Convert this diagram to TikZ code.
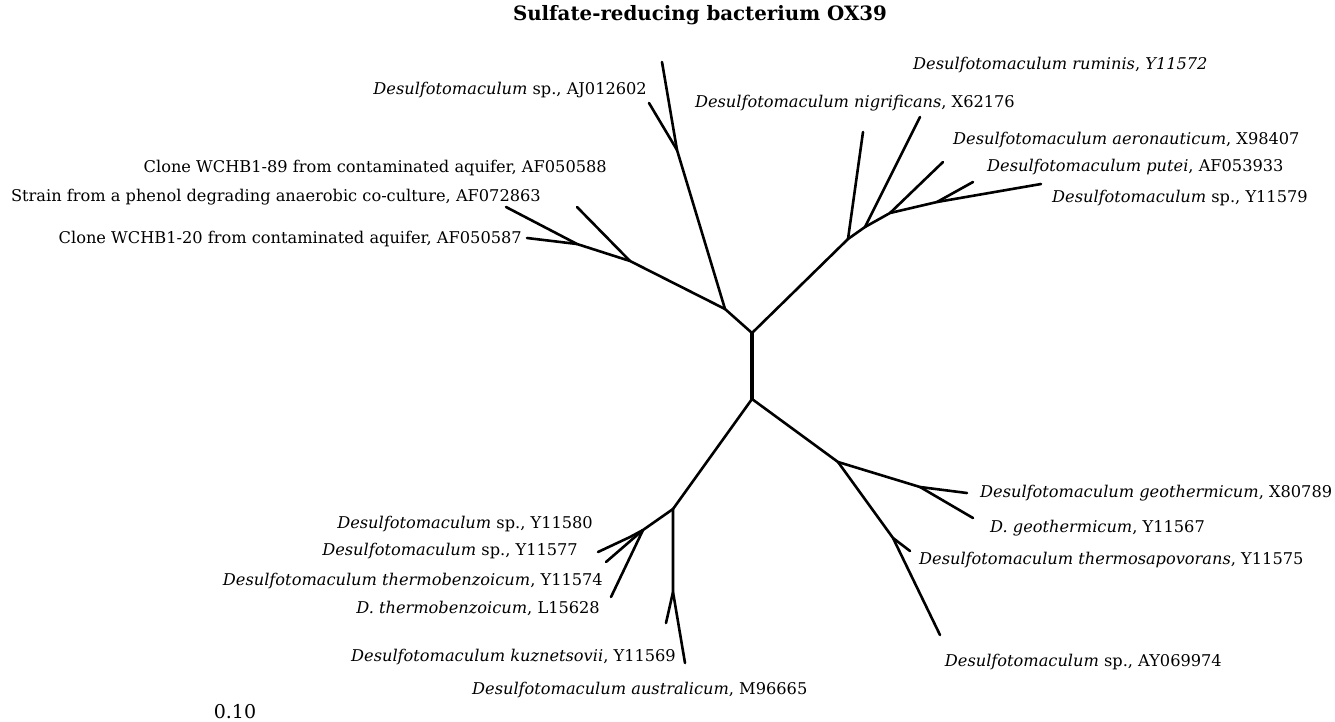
\documentclass[tikz,border=0pt]{standalone}
\usepackage{fontspec}
\setmainfont{DejaVu Serif}
\usepackage{tikz}
\usetikzlibrary{positioning, calc}

\definecolor{inkBlack}{HTML}{000000}

\tikzset{
    branch/.style={draw=inkBlack, line width=2.6pt, line cap=round, line join=round},
    taxon/.style={font=\fontsize{16.2}{18}\selectfont, text=inkBlack, inner sep=0pt},
}
\newcommand{\Dsulf}{\textit{Desulfotomaculum}}

\begin{document}
\begin{tikzpicture}[x=1pt, y=-1pt]
    \useasboundingbox (0,0) rectangle (1335,721);

    % Title
    \node[font=\bfseries\fontsize{19.8}{22}\selectfont] (title) at (700,15) {Sulfate-reducing bacterium OX39};

    % Backbone
    \coordinate (top) at (752,333);
    \coordinate (bot) at (752,399);
    \coordinate (ul) at (725,309);
    \coordinate (ur) at (848,239);
    \coordinate (ll) at (673,509);
    \coordinate (lr) at (838,462);
    \draw[branch, line width=3.6pt] (top) -- (bot);
    \draw[branch] (ul) -- (top) -- (ur);
    \draw[branch] (ll) -- (bot) -- (lr);

    % Upper-left clade
    \coordinate (ajn) at (677,150);
    \coordinate (ajA) at (662,62);
    \coordinate (ajB) at (649,103);
    \coordinate (wc89n) at (630,261);
    \coordinate (wc89) at (577,207);
    \coordinate (wcn) at (577,244);
    \coordinate (strain) at (506,207);
    \coordinate (wc20) at (527,238);
    \draw[branch] (ul) -- (ajn) -- (ajA);
    \draw[branch] (ajn) -- (ajB);
    \draw[branch] (ul) -- (wc89n) -- (wcn) -- (strain);
    \draw[branch] (wc89n) -- (wc89);
    \draw[branch] (wcn) -- (wc20);

    \node[taxon, anchor=east] (ajl) at (647,90) {\Dsulf{} sp., AJ012602};
    \node[taxon, anchor=east] (wc89l) at (607,168) {Clone WCHB1-89 from contaminated aquifer, AF050588};
    \node[taxon, anchor=east] (strl) at (541,197) {Strain from a phenol degrading anaerobic co-culture, AF072863};
    \node[taxon, anchor=east] (wc20l) at (522,239) {Clone WCHB1-20 from contaminated aquifer, AF050587};

    % Upper-right clade
    \coordinate (urB) at (865,227);
    \coordinate (urC) at (890,213);
    \coordinate (urD) at (937,202);
    \coordinate (rum) at (863,132);
    \coordinate (nig) at (920,117);
    \coordinate (aer) at (943,162);
    \coordinate (put) at (973,182);
    \coordinate (y79) at (1041,184);
    \draw[branch] (ur) -- (urB) -- (urC) -- (urD) -- (y79);
    \draw[branch] (ur) -- (rum);
    \draw[branch] (urB) -- (nig);
    \draw[branch] (urC) -- (aer);
    \draw[branch] (urD) -- (put);

    \node[taxon, anchor=west] (ruml) at (913,65) {\textit{Desulfotomaculum ruminis}, \textit{Y11572}};
    \node[taxon, anchor=east] (nigl) at (1015,103) {\textit{Desulfotomaculum nigrificans}, X62176};
    \node[taxon, anchor=west] (aerl) at (953,140) {\textit{Desulfotomaculum aeronauticum}, X98407};
    \node[taxon, anchor=west] (putl) at (987,167) {\textit{Desulfotomaculum putei}, AF053933};
    \node[taxon, anchor=west] (y79l) at (1052,198) {\Dsulf{} sp., Y11579};

    % Lower-left clade
    \coordinate (llB) at (673,592);
    \coordinate (kuz) at (666,623);
    \coordinate (aus) at (685,663);
    \coordinate (llC) at (643,530);
    \coordinate (llD) at (630,537);
    \coordinate (y80) at (598,552);
    \coordinate (y77) at (606,562);
    \coordinate (y74) at (611,597);
    \draw[branch] (ll) -- (llB) -- (kuz);
    \draw[branch] (llB) -- (aus);
    \draw[branch] (ll) -- (llC) -- (llD) -- (y80);
    \draw[branch] (llC) -- (y77);
    \draw[branch] (llC) -- (y74);

    \node[taxon, anchor=east] (y80l) at (593,524) {\Dsulf{} sp., Y11580};
    \node[taxon, anchor=east] (y77l) at (578,551) {\Dsulf{} sp., Y11577};
    \node[taxon, anchor=east] (y74l) at (603,581) {\textit{Desulfotomaculum thermobenzoicum}, Y11574};
    \node[taxon, anchor=east] (l28l) at (600,608) {\textit{D. thermobenzoicum}, L15628};
    \node[taxon, anchor=east] (kuzl) at (676,657) {\textit{Desulfotomaculum kuznetsovii}, Y11569};
    \node[taxon, anchor=west] (ausl) at (472,690) {\textit{Desulfotomaculum australicum}, M96665};

    % Lower-right clade
    \coordinate (lrB) at (920,487);
    \coordinate (x89) at (967,493);
    \coordinate (y67) at (973,518);
    \coordinate (lrC) at (893,538);
    \coordinate (y75) at (910,551);
    \coordinate (ay) at (940,635);
    \draw[branch] (lr) -- (lrB) -- (x89);
    \draw[branch] (lrB) -- (y67);
    \draw[branch] (lr) -- (lrC) -- (ay);
    \draw[branch] (lrC) -- (y75);

    \node[taxon, anchor=west] (x89l) at (980,493) {\textit{Desulfotomaculum geothermicum}, X80789};
    \node[taxon, anchor=west] (y67l) at (990,528) {\textit{D. geothermicum}, Y11567};
    \node[taxon, anchor=west] (y75l) at (919,560) {\textit{Desulfotomaculum thermosapovorans}, Y11575};
    \node[taxon, anchor=east] (ayl) at (1222,662) {\Dsulf{} sp., AY069974};

    % Scale
    \node[font=\fontsize{19}{21}\selectfont, anchor=base, inner sep=0pt] (scale) at (235,718) {0.10};
\end{tikzpicture}
\end{document}
